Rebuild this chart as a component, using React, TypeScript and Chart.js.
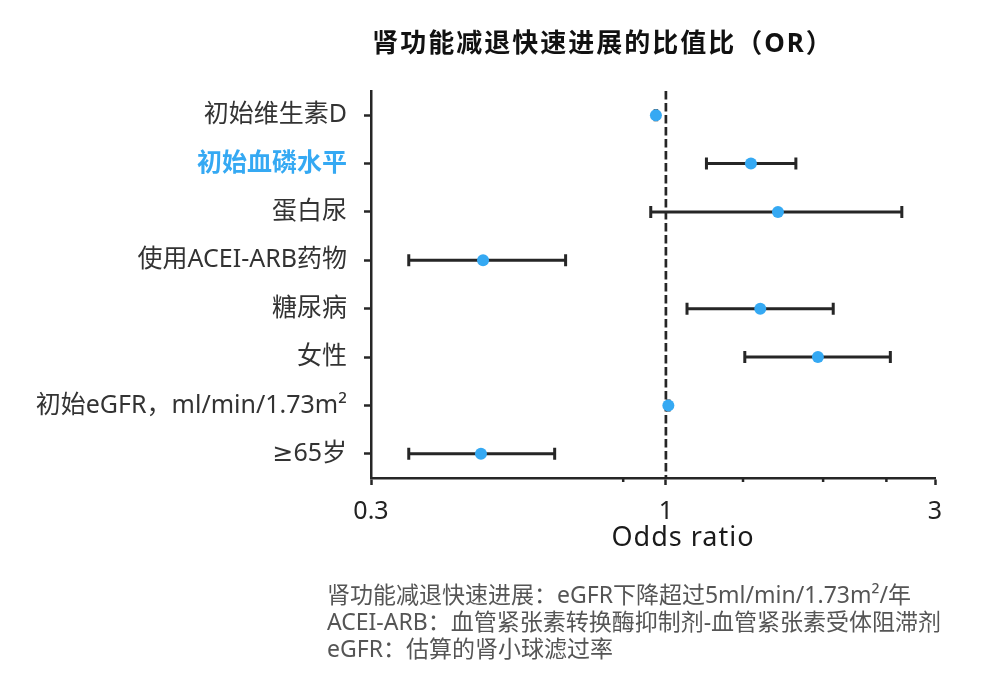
import React, { useEffect, useRef } from 'react';
import { Chart, registerables } from 'chart.js';

Chart.register(...registerables);

const FONT = '"Noto Sans", "DejaVu Sans", "Noto Sans CJK SC", sans-serif';
const BLUE = '#35a9f3';
const INK = '#262626';
const LABEL = '#333333';

const chartTitle = '肾功能减退快速进展的比值比（OR）';
const axisTitle = 'Odds ratio';

// Risk factors, top to bottom
const factors = [
  '初始维生素D',
  '初始血磷水平',
  '蛋白尿',
  '使用ACEI-ARB药物',
  '糖尿病',
  '女性',
  '初始eGFR，ml/min/1.73m²',
  '≥65岁',
];
const highlighted = [false, true, false, false, false, false, false, false];

// Odds ratios with 95% confidence limits
const oddsRatio = [0.96, 1.415, 1.58, 0.474, 1.47, 1.86, 1.01, 0.47];
const ciLow = [0.957, 1.18, 0.94, 0.35, 1.09, 1.38, 1.007, 0.35];
const ciHigh = [0.963, 1.7, 2.62, 0.664, 1.98, 2.5, 1.013, 0.635];

const majorTicks = [0.3, 1, 3];
const minorTicks = [0.84, 1.37, 1.9, 2.46];
const referenceValue = 1;

const footnotes = [
  '肾功能减退快速进展：eGFR下降超过5ml/min/1.73m²/年',
  'ACEI-ARB：血管紧张素转换酶抑制剂-血管紧张素受体阻滞剂',
  'eGFR：估算的肾小球滤过率',
];

const forestPlugin = {
  id: 'forest',
  beforeDatasetsDraw(chart: any) {
    const { ctx, chartArea, scales } = chart;
    const xs = scales.x;
    const ys = scales.y;
    ctx.save();
    // dashed no-effect line
    const rx = xs.getPixelForValue(referenceValue);
    ctx.strokeStyle = INK;
    ctx.lineWidth = 2.7;
    ctx.setLineDash([8.5, 3.5]);
    ctx.beginPath();
    ctx.moveTo(rx, chartArea.top);
    ctx.lineTo(rx, chartArea.bottom);
    ctx.stroke();
    ctx.setLineDash([]);
    // confidence interval whiskers
    ctx.lineWidth = 3;
    oddsRatio.forEach((_, i) => {
      const yy = ys.getPixelForValue(i);
      const x0 = xs.getPixelForValue(ciLow[i]);
      const x1 = xs.getPixelForValue(ciHigh[i]);
      ctx.beginPath();
      ctx.moveTo(x0, yy);
      ctx.lineTo(x1, yy);
      ctx.moveTo(x0, yy - 6);
      ctx.lineTo(x0, yy + 6);
      ctx.moveTo(x1, yy - 6);
      ctx.lineTo(x1, yy + 6);
      ctx.stroke();
    });
    ctx.restore();
  },
  afterDraw(chart: any) {
    const { ctx, chartArea, scales } = chart;
    const xs = scales.x;
    ctx.save();
    // short minor ticks on the x axis
    ctx.strokeStyle = INK;
    ctx.lineWidth = 2.5;
    minorTicks.forEach((v) => {
      const px = xs.getPixelForValue(v);
      ctx.beginPath();
      ctx.moveTo(px, chartArea.bottom);
      ctx.lineTo(px, chartArea.bottom + 4);
      ctx.stroke();
    });

    ctx.textBaseline = 'alphabetic';
    // title
    ctx.fillStyle = '#111111';
    ctx.font = `bold 26px ${FONT}`;
    (ctx as any).letterSpacing = '2px';
    ctx.textAlign = 'center';
    ctx.fillText(chartTitle, 603, 52);

    // axis title
    ctx.fillStyle = '#1a1a1a';
    ctx.font = `27px ${FONT}`;
    (ctx as any).letterSpacing = '1px';
    ctx.fillText(axisTitle, 683, 546);

    // notes
    (ctx as any).letterSpacing = '0px';
    ctx.fillStyle = '#555555';
    ctx.font = `23px ${FONT}`;
    ctx.textAlign = 'left';
    const baselines = [603, 630, 657];
    footnotes.forEach((t, i) => ctx.fillText(t, 327, baselines[i]));
    ctx.restore();
  },
};

export default function App() {
  const canvasRef = useRef<HTMLCanvasElement>(null);

  useEffect(() => {
    const canvas = canvasRef.current;
    if (!canvas) return;
    const chart = new Chart(canvas, {
      type: 'scatter',
      data: {
        datasets: [
          {
            data: oddsRatio.map((v, i) => ({ x: v, y: i })),
            backgroundColor: BLUE,
            borderWidth: 0,
            pointRadius: 6,
            pointHoverRadius: 6,
          },
        ],
      },
      options: {
        animation: false,
        responsive: false,
        devicePixelRatio: 1,
        events: [],
        layout: { padding: { left: 0, right: 51, top: 91, bottom: 0 } },
        plugins: {
          legend: { display: false },
          tooltip: { enabled: false },
          title: { display: false },
        },
        scales: {
          x: {
            type: 'logarithmic',
            min: 0.3,
            max: 3,
            afterBuildTicks: (scale: any) => {
              scale.ticks = [...majorTicks, ...minorTicks]
                .sort((a, b) => a - b)
                .map((value) => ({ value }));
            },
            afterFit: (scale: any) => {
              scale.height = 684 - 478;
            },
            ticks: {
              autoSkip: false,
              maxRotation: 0,
              padding: 12,
              color: '#222222',
              font: { family: FONT, size: 25 },
              callback: (value: any) => (majorTicks.includes(Number(value)) ? String(value) : ''),
            },
            grid: {
              drawOnChartArea: false,
              tickLength: 7,
              tickWidth: 2.5,
              tickColor: (c: any) =>
                c.tick && majorTicks.includes(c.tick.value) ? INK : 'rgba(0,0,0,0)',
            },
            border: { display: true, color: INK, width: 2.5 },
          },
          y: {
            type: 'linear',
            min: -0.5,
            max: 7.5,
            reverse: true,
            afterBuildTicks: (scale: any) => {
              scale.ticks = factors.map((_, i) => ({ value: i }));
            },
            afterFit: (scale: any) => {
              scale.width = 371;
            },
            ticks: {
              autoSkip: false,
              padding: 17,
              color: (c: any) => (highlighted[c.index] ? BLUE : LABEL),
              font: (c: any) => ({
                family: FONT,
                size: 25,
                weight: highlighted[c.index] ? 'bold' : 'normal',
              }),
              callback: (value: any) => factors[Number(value)] ?? '',
            },
            grid: {
              drawOnChartArea: false,
              tickLength: 7,
              tickWidth: 2.5,
              tickColor: INK,
            },
            border: { display: true, color: INK, width: 2.5 },
          },
        },
      },
      plugins: [forestPlugin],
    });
    return () => chart.destroy();
  }, []);

  return (
    <div style={{ position: 'absolute', left: 0, top: 0, width: 986, height: 684, background: '#ffffff' }}>
      <canvas ref={canvasRef} width={986} height={684} style={{ display: 'block' }} />
    </div>
  );
}
